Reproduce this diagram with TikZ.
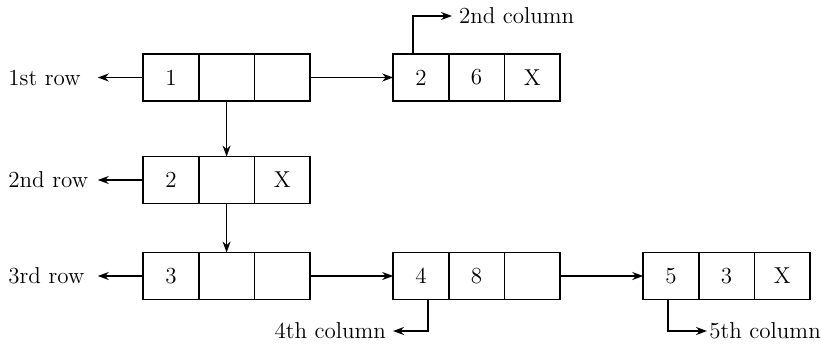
\documentclass[tikz,border=0pt]{standalone}
\usetikzlibrary{positioning,arrows.meta}
\begin{document}
\begin{tikzpicture}[x=0.5pt, y=-0.5pt,
    font=\fontsize{11.5}{14}\selectfont,
    cell/.style={draw, line width=0.8pt, minimum width=27.8pt, minimum height=23.5pt,
        inner sep=0pt, outer sep=0pt},
    link/.style={-{Stealth[length=5.5pt,width=4pt]}, line width=0.8pt},
    rowlabel/.style={anchor=west, text width=44.5pt, align=left, inner sep=0pt}]
    \useasboundingbox (0,0) rectangle (821,344);

    % First row
    \node[cell] (a1) at (171,77.5) {1};
    \node[cell, right=0pt of a1] (a2) {};
    \node[cell, right=0pt of a2] (a3) {};
    \node[cell] (b1) at (421,77.5) {2};
    \node[cell, right=0pt of b1] (b2) {6};
    \node[cell, right=0pt of b2] (b3) {X};

    % Second row
    \node[cell] (c1) at (171,180) {2};
    \node[cell, right=0pt of c1] (c2) {};
    \node[cell, right=0pt of c2] (c3) {X};

    % Third row
    \node[cell] (d1) at (171,276) {3};
    \node[cell, right=0pt of d1] (d2) {};
    \node[cell, right=0pt of d2] (d3) {};
    \node[cell] (e1) at (421,276) {4};
    \node[cell, right=0pt of e1] (e2) {8};
    \node[cell, right=0pt of e2] (e3) {};
    \node[cell] (f1) at (671,276) {5};
    \node[cell, right=0pt of f1] (f2) {3};
    \node[cell, right=0pt of f2] (f3) {X};

    % Row and column labels
    \node[rowlabel] (row1) at (8,77.5) {1st row};
    \node[rowlabel] (row2) at (8,180) {2nd row};
    \node[rowlabel] (row3) at (8,276) {3rd row};
    \node[anchor=west] (col2) at (452,16) {2nd column};
    \node[anchor=east, inner ysep=0pt] (col4) at (393,331) {4th column};
    \node[anchor=west, inner sep=1pt, inner ysep=0pt] (col5) at (707,331) {5th column};

    % Links
    \draw[link] (a1.west) -- (row1.east);
    \draw[link] (c1.west) -- (row2.east);
    \draw[link] (d1.west) -- (row3.east);
    \draw[link] (a3.east) -- (b1.west);
    \draw[link] (d3.east) -- (e1.west);
    \draw[link] (e3.east) -- (f1.west);
    \draw[link] (a2.south) -- (c2.north);
    \draw[link] (c2.south) -- (d2.north);
    \draw[link] ([xshift=-4pt]b1.north) |- (col2.west);
    \draw[link] ([xshift=3.5pt]e1.south) |- (col4.east);
    \draw[link] ([xshift=-1.5pt]f1.south) |- (col5.west);
\end{tikzpicture}
\end{document}
